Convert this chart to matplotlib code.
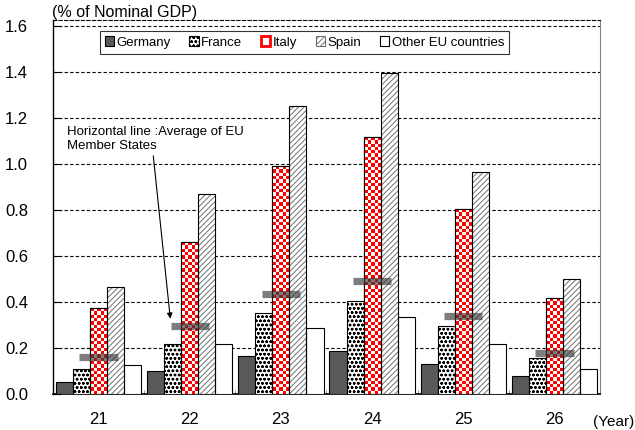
import numpy as np
import matplotlib
matplotlib.use("Agg")
import matplotlib.pyplot as plt
from matplotlib.patches import Patch

plt.rcParams['font.family'] = ['Liberation Sans', 'DejaVu Sans']
plt.rcParams['hatch.linewidth'] = 0.7

years = ['21', '22', '23', '24', '25', '26']
series_names = ['Germany', 'France', 'Italy', 'Spain', 'Other EU countries']
germany = [0.05, 0.10, 0.165, 0.185, 0.13, 0.08]
france = [0.11, 0.215, 0.35, 0.405, 0.295, 0.155]
italy = [0.375, 0.66, 0.99, 1.115, 0.805, 0.415]
spain = [0.465, 0.87, 1.25, 1.395, 0.965, 0.50]
other = [0.125, 0.215, 0.285, 0.335, 0.215, 0.11]
eu_average = [0.16, 0.295, 0.435, 0.49, 0.34, 0.18]

W, H = 635, 430
fig = plt.figure(figsize=(W / 100, H / 100), dpi=100)
ax = fig.add_axes([53 / W, 1 - 394 / H, (600 - 53) / W, (394 - 20) / H])

x = np.arange(len(years))
bw = 0.187
offsets = (np.arange(5) - 2) * bw

# Germany
ax.bar(x + offsets[0], germany, bw, color='#595959', edgecolor='black', linewidth=0.8, zorder=3)
# France (dotted)
ax.bar(x + offsets[1], france, bw, color='white', edgecolor='black', hatch='oooo', linewidth=0, zorder=3)
ax.bar(x + offsets[1], france, bw, color='none', edgecolor='black', linewidth=0.8, zorder=4)
# Italy (red checkerboard)
ibars = ax.bar(x + offsets[2], italy, bw, color='white', edgecolor='black', linewidth=0.8, zorder=3)
cell_y = 0.0143
for b in ibars:
    x0, w, h = b.get_x(), b.get_width(), b.get_height()
    nc = 5
    nr = max(1, int(round(h / cell_y)))
    ii, jj = np.meshgrid(np.arange(nc), np.arange(nr))
    board = ((ii + jj) % 2).astype(float)
    img = np.ones((nr, nc, 3))
    img[board == 1] = [1.0, 0.0, 0.0]
    ax.imshow(img, extent=(x0, x0 + w, 0, nr * cell_y), aspect='auto',
              interpolation='nearest', origin='lower', zorder=3.5, clip_path=b, clip_on=True)
ax.bar(x + offsets[2], italy, bw, color='none', edgecolor='black', linewidth=0.8, zorder=4)
# Spain (diagonal hatch)
ax.bar(x + offsets[3], spain, bw, color='white', edgecolor='#707070', hatch='//////', linewidth=0, zorder=3)
ax.bar(x + offsets[3], spain, bw, color='none', edgecolor='black', linewidth=0.8, zorder=4)
# Other EU
ax.bar(x + offsets[4], other, bw, color='white', edgecolor='black', linewidth=0.8, zorder=3)

# EU average horizontal lines
ax.hlines(eu_average, x - 0.21, x + 0.21, colors='#383838', linewidth=5.2, alpha=0.65, zorder=5)

ax.set_xlim(-0.5, 5.5)
ax.set_ylim(0, 1.624)
ax.set_yticks(np.arange(0, 1.61, 0.2))
ax.set_yticklabels([f'{v:.1f}' for v in np.arange(0, 1.61, 0.2)], fontsize=12)
ax.set_xticks(x)
ax.set_xticklabels(years, fontsize=12)
ax.tick_params(axis='x', length=0, pad=13)
ax.tick_params(axis='y', direction='in', length=6, pad=18, width=0.8)
ax.set_xticks(np.arange(0.5, 5.5, 1), minor=True)
ax.tick_params(axis='x', which='minor', direction='in', length=3, color='#808080')

for yv in np.arange(0.2, 1.61, 0.2):
    ax.axhline(yv, color='black', linewidth=0.8, linestyle=(0, (3, 2)), zorder=1)

ax.spines['top'].set_linestyle((0, (3, 2)))
ax.spines['top'].set_linewidth(0.8)
ax.spines['right'].set_color('#808080')
ax.spines['left'].set_linewidth(1.0)
ax.spines['bottom'].set_linewidth(1.2)

fig.text(52 / W, 1 - 13 / H, '(% of Nominal GDP)', fontsize=11.5, va='center', ha='left')
fig.text(634 / W, 1 - 422 / H, '(Year)', fontsize=11, va='center', ha='right')

ax.text(-0.346, 1.165, 'Horizontal line :Average of EU\nMember States', fontsize=9.5,
        va='top', ha='left', linespacing=1.3, zorder=6)
ax.annotate('', xy=(x[1] - 0.21, eu_average[1] + 0.02), xytext=(0.597, 1.046),
            arrowprops=dict(arrowstyle='-|>', color='black', lw=0.8, mutation_scale=8), zorder=6)

handles = [
    Patch(facecolor='#595959', edgecolor='black', linewidth=0.8),
    Patch(facecolor='white', edgecolor='black', hatch='oooo', linewidth=0.8),
    Patch(facecolor='white', edgecolor='red', linewidth=2.0),
    Patch(facecolor='white', edgecolor='#707070', hatch='//////', linewidth=0.8),
    Patch(facecolor='white', edgecolor='black', linewidth=0.8),
]
leg = ax.legend(handles, series_names, loc='upper center', ncol=5,
                bbox_to_anchor=(304.5 / W, 1 - 31 / H), bbox_transform=fig.transFigure,
                fontsize=9.5, frameon=True, fancybox=False, edgecolor='black',
                handlelength=0.7, handleheight=0.7, handletextpad=0.2,
                columnspacing=1.4, borderpad=0.4, borderaxespad=0)
leg.get_frame().set_linewidth(0.8)
leg.set_zorder(10)

fig.savefig('out.png', dpi=100)
